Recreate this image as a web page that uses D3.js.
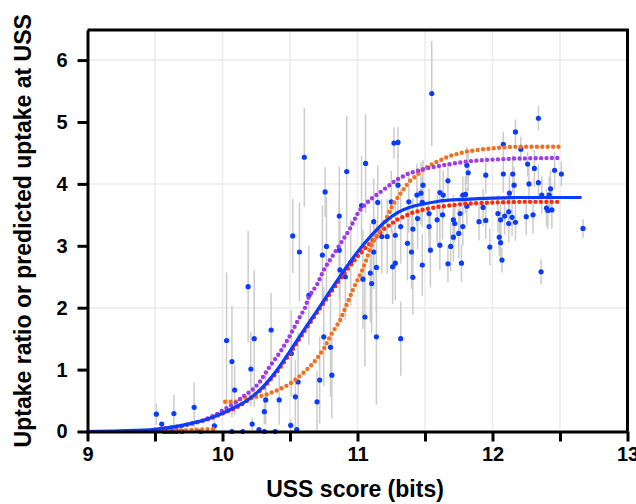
<!DOCTYPE html>
<html>
<head>
<meta charset="utf-8">
<script src="https://cdn.jsdelivr.net/npm/d3@7"></script>
<style>
  body { margin: 0; background: #fff; }
  text { font-family: "Liberation Sans", Arial, sans-serif; font-weight: bold; }
</style>
</head>
<body>
<div id="chart"></div>
<script>
// Observed uptake ratios (blue points) with error half-widths
var ussScore = [9.51, 9.55, 9.57, 9.60, 9.63, 9.64, 9.66, 9.70, 9.79, 9.84, 9.94,
  10.03, 10.07, 10.07, 10.09, 10.15, 10.19, 10.21, 10.22, 10.235, 10.27, 10.31, 10.31, 10.32,
  10.36, 10.39, 10.42, 10.505, 10.51, 10.52, 10.54, 10.55, 10.56, 10.57, 10.606, 10.64,
  10.70, 10.72, 10.74, 10.75, 10.76, 10.77, 10.80, 10.81, 10.865, 10.865, 10.87, 10.91, 10.92, 10.95,
  11.03, 11.04, 11.055, 11.06, 11.095, 11.105, 11.12, 11.12, 11.14, 11.14, 11.15, 11.18, 11.22,
  11.25, 11.26, 11.27, 11.28, 11.28, 11.30, 11.30, 11.32, 11.32, 11.37, 11.38, 11.40, 11.41, 11.41,
  11.445, 11.44, 11.47, 11.485, 11.48, 11.48, 11.53, 11.53, 11.54, 11.55, 11.59, 11.61, 11.61,
  11.635, 11.63, 11.67, 11.67, 11.69, 11.71, 11.72, 11.71, 11.75, 11.77, 11.76, 11.78, 11.78,
  11.80, 11.81, 11.82, 11.81, 11.90, 11.93, 11.95, 11.95, 11.98, 12.04, 12.05, 12.06, 12.06,
  12.07, 12.08, 12.08, 12.09, 12.12, 12.125, 12.12, 12.145, 12.15, 12.16, 12.17, 12.17, 12.21,
  12.25, 12.26, 12.27, 12.30, 12.31, 12.34, 12.34, 12.36, 12.365, 12.40, 12.41, 12.42, 12.43,
  12.44, 12.46, 12.51, 12.67];
var uptakeRatio = [0.28, 0.12, 0.0, 0.0, 0.0, 0.29, 0.0, 0.0, 0.39, 0.0, 0.09,
  1.47, 1.13, 0.0, 0.67, 0.0, 2.34, 1.01, 0.12, 1.5, 0.03, 0.32, 0.0, 0.51,
  1.64, 0.0, 0.51, 0.1, 1.26, 3.16, 0.56, 0.03, 0.8, 2.9, 4.43, 2.2,
  0.48, 0.83, 2.85, 1.53, 3.87, 2.99, 1.36, 0.91, 3.48, 2.93, 2.61, 2.5, 4.2, 2.73,
  3.65, 2.46, 1.85, 4.33, 2.56, 2.39, 2.9, 3.39, 1.53, 2.65, 3.7, 3.15, 3.15,
  3.71, 2.66, 4.66, 2.72, 3.17, 4.67, 3.98, 1.5, 3.31, 3.04, 3.71, 2.9, 2.49, 3.27,
  3.44, 3.82, 3.85, 3.98, 3.7, 2.69, 3.31, 3.52, 2.93, 5.46, 3.42, 3.01, 3.86,
  3.82, 3.5, 4.05, 2.71, 2.99, 3.42, 3.36, 3.14, 3.2, 2.72, 3.52, 3.82, 3.31,
  3.83, 4.3, 4.18, 3.64, 3.39, 3.62, 3.41, 4.14, 2.98, 3.52, 3.14, 3.42, 3.05,
  2.77, 4.16, 4.64, 3.48, 3.55, 3.85, 3.36, 3.46, 4.16, 3.98, 4.84, 3.38, 4.56,
  3.47, 4.32, 4.0, 3.5, 4.25, 5.06, 4.02, 2.58, 3.82, 3.61, 3.57, 3.82, 3.92,
  3.58, 4.22, 4.16, 3.28];
var uptakeErr = [0.17, 0, 0, 0, 0, 0.3, 0, 0, 0.4, 0, 0.1,
  1.1, 0.9, 0, 0.4, 0, 0.9, 0.6, 0.1, 1.1, 0, 0.2, 0, 0.4,
  0.6, 0, 0.4, 0.1, 0.7, 0.6, 0.6, 0, 0.8, 0.8, 0.8, 0.8,
  0.5, 0.7, 0.8, 0.8, 0.4, 0.8, 0.8, 0.7, 0.8, 0.8, 0.8, 0.7, 0.9, 0.7,
  0.8, 0.8, 0.8, 0.8, 0.8, 0.8, 0.6, 0.7, 1.1, 0.7, 0.6, 0.6, 0.6,
  0.5, 0.6, 0.25, 0.6, 0.5, 0.25, 0.5, 0.6, 0.6, 0.6, 0.5, 0.6, 0.6, 0.5,
  0.5, 0.5, 0.5, 0.4, 0.4, 0.5, 0.4, 0.4, 0.6, 0.85, 0.4, 0.4, 0.4,
  0.4, 0.4, 0.3, 0.3, 0.4, 0.4, 0.3, 0.4, 0.4, 0.3, 0.3, 0.3, 0.3,
  0.3, 0.3, 0.3, 0.3, 0.3, 0.3, 0.3, 0.3, 0.3, 0.3, 0.3, 0.3, 0.3,
  0.2, 0.3, 0.2, 0.3, 0.3, 0.3, 0.3, 0.3, 0.3, 0.3, 0.2, 0.3, 0.2,
  0.3, 0.2, 0.3, 0.3, 0.3, 0.2, 0.3, 0.2, 0.3, 0.3, 0.3, 0.3, 0.3,
  0.3, 0.3, 0.2, 0.15];

// Fitted curve (solid blue)
var fitX = [9.0, 9.25, 9.5, 9.7, 9.9, 10.1, 10.2, 10.3, 10.4, 10.5, 10.6, 10.7, 10.8, 10.9,
  11.0, 11.1, 11.2, 11.3, 11.4, 11.5, 11.6, 11.8, 12.0, 12.2, 12.66];
var fitY = [0, 0.01, 0.035, 0.1, 0.21, 0.4, 0.53, 0.72, 0.98, 1.3, 1.63, 1.95, 2.28, 2.6,
  2.9, 3.16, 3.38, 3.54, 3.63, 3.68, 3.72, 3.75, 3.77, 3.78, 3.78];

// Predicted uptake (dotted series); null marks a gap
var redX = [9.5, 9.7, 9.9, 10.1, 10.2, 10.3, 10.4, 10.5, 10.6, 10.7, 10.8, 10.9, 11.0, 11.1,
  11.2, 11.3, 11.4, 11.5, 11.6, 11.8, 12.0, 12.2, 12.5, null, 12.67];
var redY = [0.03, 0.09, 0.2, 0.38, 0.52, 0.7, 0.95, 1.26, 1.6, 1.92, 2.24, 2.55, 2.83, 3.06,
  3.28, 3.43, 3.53, 3.59, 3.63, 3.68, 3.7, 3.71, 3.71, null, 3.71];

var purpleX = [9.5, 9.6, 9.7, 9.85, 9.95, 10.03, 10.1, 10.15, 10.22, 10.27, 10.35, 10.43, 10.5,
  10.56, 10.61, 10.64, 10.7, 10.75, 10.81, 10.87, 10.94, 11.01, 11.09, 11.19, 11.285, 11.38,
  11.51, 11.63, 11.8, 11.93, 12.17, 12.5, null, 12.67];
var purpleY = [0.02, 0.05, 0.09, 0.17, 0.27, 0.38, 0.47, 0.56, 0.67, 0.78, 1.05, 1.29, 1.55,
  1.8, 1.99, 2.18, 2.37, 2.61, 2.82, 3.02, 3.26, 3.56, 3.74, 3.9, 4.06, 4.17,
  4.25, 4.3, 4.36, 4.385, 4.41, 4.42, null, 4.42];

var orangeX = [9.49, 9.6, 9.7, 9.8, 9.93, null, 10.02, 10.11, 10.14, 10.2, 10.28, 10.33, 10.4,
  10.46, 10.52, 10.57, 10.62, 10.67, 10.7, 10.75, 10.8, 10.87, 10.92, 10.98, 11.03, 11.06,
  11.1, 11.15, 11.21, 11.26, 11.32, 11.38, 11.48, 11.56, 11.68, 11.8, 11.93, 12.05, 12.17,
  12.5, null, 12.67];
var orangeY = [0.01, 0.01, 0.02, 0.03, 0.04, null, 0.48, 0.48, 0.54, 0.55, 0.57, 0.6, 0.66,
  0.72, 0.8, 0.89, 0.99, 1.1, 1.18, 1.33, 1.55, 1.79, 2.05, 2.36, 2.58, 2.74,
  3.0, 3.2, 3.42, 3.66, 3.85, 4.03, 4.22, 4.33, 4.45, 4.52, 4.56, 4.585, 4.6,
  4.6, null, 4.6];

var xTicks = [9, 9.5, 10, 10.5, 11, 11.5, 12, 12.5, 13];
var yTicks = [0, 1, 2, 3, 4, 5, 6];

// Chart area
// ==============================
var svgWidth = 636;
var svgHeight = 504;
var plotLeft = 87.5, plotRight = 627.5, plotTop = 30, plotBottom = 431.5;

var svg = d3.select("#chart")
  .append("svg")
  .attr("width", svgWidth)
  .attr("height", svgHeight);

var xScale = d3.scaleLinear().domain([9, 13]).range([plotLeft, plotRight]);
var yScale = d3.scaleLinear().domain([0, 6.486]).range([plotBottom, plotTop]);

// Grid lines
svg.append("g")
  .selectAll("line")
  .data([9.5, 10, 10.5, 11, 11.5, 12, 12.5])
  .enter()
  .append("line")
  .attr("x1", d => xScale(d)).attr("x2", d => xScale(d))
  .attr("y1", plotTop).attr("y2", plotBottom)
  .attr("stroke", "#ebebeb")
  .attr("stroke-width", 1.5);

svg.append("g")
  .selectAll("line")
  .data([2, 4, 6])
  .enter()
  .append("line")
  .attr("x1", plotLeft).attr("x2", plotRight)
  .attr("y1", d => yScale(d)).attr("y2", d => yScale(d))
  .attr("stroke", "#ebebeb")
  .attr("stroke-width", 1.5);

// Error bars and points
// ==============================
var points = ussScore.map((x, i) => ({ x: x, y: uptakeRatio[i], e: uptakeErr[i] }));

svg.append("g")
  .selectAll("line")
  .data(points.filter(d => d.e > 0))
  .enter()
  .append("line")
  .attr("x1", d => xScale(d.x)).attr("x2", d => xScale(d.x))
  .attr("y1", d => yScale(Math.max(0, d.y - d.e)))
  .attr("y2", d => yScale(d.y + d.e))
  .attr("stroke", "#cccccc")
  .attr("stroke-width", 1.5);

svg.append("g")
  .selectAll("circle")
  .data(points)
  .enter()
  .append("circle")
  .attr("cx", d => xScale(d.x))
  .attr("cy", d => yScale(d.y))
  .attr("r", 2.6)
  .attr("fill", "#0a3cff");

// Dotted prediction series
var dotLine = d3.line()
  .defined(d => d[1] !== null)
  .x(d => xScale(d[0]))
  .y(d => yScale(d[1]));

function dotted(xs, ys, color) {
  svg.append("path")
    .datum(xs.map((x, i) => [x, ys[i]]))
    .attr("d", dotLine)
    .attr("fill", "none")
    .attr("stroke", color)
    .attr("stroke-width", 4.4)
    .attr("stroke-linecap", "round")
    .attr("stroke-dasharray", "0 5.4");
}
dotted(redX, redY, "#ff2a0a");
dotted(orangeX, orangeY, "#f27022");
dotted(purpleX, purpleY, "#a03ce6");

// Fitted curve
svg.append("path")
  .datum(fitX.map((x, i) => [x, fitY[i]]))
  .attr("d", d3.line().curve(d3.curveMonotoneX).x(d => xScale(d[0])).y(d => yScale(d[1])))
  .attr("fill", "none")
  .attr("stroke", "#0a3cff")
  .attr("stroke-width", 3.2);

// Axes
// ==============================
var bottomAxis = d3.axisBottom(xScale)
  .tickValues(xTicks)
  .tickFormat(d => Number.isInteger(d) ? d : "")
  .tickSize(10)
  .tickSizeOuter(0)
  .tickPadding(5);

var leftAxis = d3.axisLeft(yScale)
  .tickValues(yTicks)
  .tickFormat(d3.format("d"))
  .tickSize(10)
  .tickSizeOuter(0)
  .tickPadding(10);

var xg = svg.append("g")
  .attr("transform", `translate(0, ${plotBottom})`)
  .call(bottomAxis);

var yg = svg.append("g")
  .attr("transform", `translate(${plotLeft}, 0)`)
  .call(leftAxis);

[xg, yg].forEach(function(g) {
  g.selectAll("path, line").attr("stroke", "#000").attr("stroke-width", 3);
  g.selectAll("text")
    .attr("fill", "#000")
    .style("font-size", "20px")
    .style("font-family", "'Liberation Sans', Arial, sans-serif")
    .style("font-weight", "bold");
});

// top / right frame
svg.append("path")
  .attr("d", `M${plotLeft},${plotTop}H${plotRight}V${plotBottom}`)
  .attr("fill", "none")
  .attr("stroke", "#000")
  .attr("stroke-width", 3);

// Axis labels
svg.append("text")
  .attr("transform", `translate(31, ${(plotTop + plotBottom) / 2}) rotate(-90)`)
  .attr("text-anchor", "middle")
  .style("font-size", "23px")
  .text("Uptake ratio or predicted uptake at USS");

svg.append("text")
  .attr("x", 355)
  .attr("y", 497)
  .attr("text-anchor", "middle")
  .style("font-size", "23px")
  .text("USS score (bits)");
</script>
</body>
</html>
